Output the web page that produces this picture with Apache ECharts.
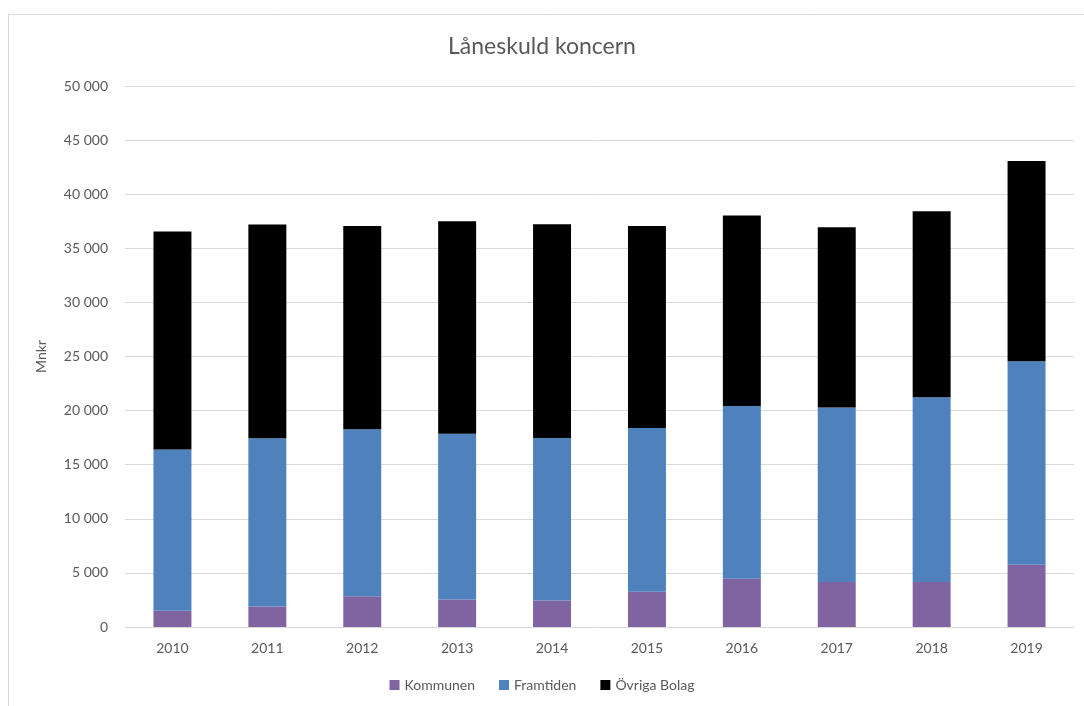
<!DOCTYPE html>
<html>
<head>
<meta charset="utf-8">
<script src="https://cdn.jsdelivr.net/npm/echarts@6/dist/echarts.min.js"></script>
<style>
	html, body { margin: 0; padding: 0; background: #fff; }
	#chart { width: 1084px; height: 706px; }
</style>
</head>
<body>
<div id="chart"></div>
<script>
	/** years on the x axis */
	var years = ["2010", "2011", "2012", "2013", "2014", "2015", "2016", "2017", "2018", "2019"];
	/** values in Mnkr */
	var kommunen = [1500, 1900, 2850, 2550, 2450, 3250, 4450, 4150, 4150, 5750];
	var framtiden = [14900, 15550, 15420, 15320, 15020, 15140, 15980, 16130, 17080, 18810];
	var ovrigaBolag = [20150, 19750, 18790, 19630, 19750, 18670, 17590, 16660, 17190, 18510];

	var fontName = "Lato, 'Open Sans', sans-serif";
	var textColor = "#595959";

	function formatThousands(v) {
		return String(v).replace(/\B(?=(\d{3})+(?!\d))/g, " ");
	}

	function barSeries(name, data, color) {
		return {
			name : name,
			type : "bar",
			stack : "total",
			data : data,
			barCategoryGap : "60%",
			itemStyle : {
				color : color
			},
			emphasis : {
				disabled : true
			}
		};
	}

	var chart = echarts.init(document.getElementById("chart"));
	chart.setOption({
		animation : false,
		textStyle : {
			fontFamily : fontName
		},
		graphic : [ {
			type : "rect",
			shape : { x : 8.5, y : 14.5, width : 1090, height : 720 },
			style : { fill : "none", stroke : "#d9d9d9", lineWidth : 1 },
			silent : true
		} ],
		title : {
			text : "Låneskuld koncern",
			left : "center",
			top : 30,
			textStyle : {
				fontFamily : fontName,
				fontSize : 23,
				fontWeight : "normal",
				color : textColor
			}
		},
		legend : {
			bottom : 9,
			left : "center",
			itemWidth : 10,
			itemHeight : 10,
			itemGap : 24,
			icon : "rect",
			textStyle : {
				fontFamily : fontName,
				fontSize : 14,
				color : textColor
			},
			data : [ "Kommunen", "Framtiden", "Övriga Bolag" ]
		},
		grid : {
			left : 125,
			right : 10,
			top : 86,
			bottom : 79,
			containLabel : false
		},
		xAxis : {
			type : "category",
			data : years,
			axisTick : { show : false },
			axisLine : { lineStyle : { color : "#d9d9d9" } },
			axisLabel : {
				color : textColor,
				fontSize : 14,
				margin : 14
			}
		},
		yAxis : {
			type : "value",
			min : 0,
			max : 50000,
			interval : 5000,
			name : "Mnkr",
			nameLocation : "middle",
			nameGap : 77,
			nameTextStyle : {
				color : textColor,
				fontSize : 14
			},
			axisLine : { show : false },
			axisTick : { show : false },
			splitLine : { lineStyle : { color : "#d9d9d9" } },
			axisLabel : {
				color : textColor,
				fontSize : 14,
				margin : 17,
				formatter : formatThousands
			}
		},
		series : [
			barSeries("Kommunen", kommunen, "#8064A2"),
			barSeries("Framtiden", framtiden, "#4F81BD"),
			barSeries("Övriga Bolag", ovrigaBolag, "#000000")
		]
	});
</script>
</body>
</html>
